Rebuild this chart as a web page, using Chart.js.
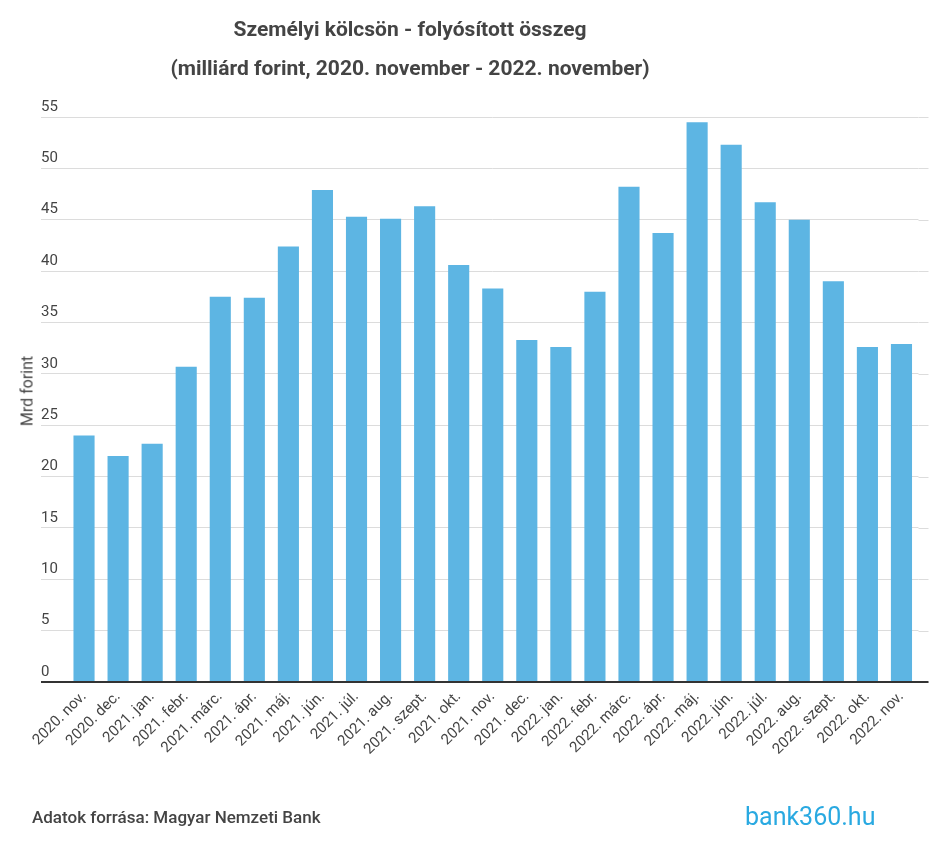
<!DOCTYPE html>
<html>
<head>
<meta charset="utf-8">
<script src="https://cdn.jsdelivr.net/npm/chart.js@4.4.1/dist/chart.umd.min.js"></script>
<style>
  body { margin: 0; background: #fff; }
  #wrap { position: relative; width: 940px; height: 851px; background: #fff; font-family: Roboto, "Noto Sans", sans-serif; color: #444; }
  #c { position: absolute; left: 0; top: 0; }
  .title { position: absolute; left: 0; top: 10px; width: 820px; text-align: center; font-weight: bold; font-size: 21px; line-height: 39px; color: #444; }
  .ylab { position: absolute; left: 27px; top: 391px; transform: translate(-50%, -50%) rotate(-90deg); font-size: 16px; color: #444; white-space: nowrap; }
  .src { position: absolute; left: 32px; top: 807px; font-size: 17px; font-weight: 500; color: #444; }
  .logo { position: absolute; left: 745px; top: 802px; font-size: 25px; font-weight: 400; color: #29a9e1; }
</style>
</head>
<body>
<div id="wrap">
  <canvas id="c" width="940" height="851"></canvas>
  <div class="title">Személyi kölcsön - folyósított összeg<br>(milliárd forint, 2020. november - 2022. november)</div>
  <div class="ylab">Mrd forint</div>
  <div class="src">Adatok forrása: Magyar Nemzeti Bank</div>
  <div class="logo">bank360.hu</div>
</div>
<script>
const months = ['2020. nov.', '2020. dec.', '2021. jan.', '2021. febr.', '2021. márc.', '2021. ápr.',
  '2021. máj.', '2021. jún.', '2021. júl.', '2021. aug.', '2021. szept.', '2021. okt.', '2021. nov.',
  '2021. dec.', '2022. jan.', '2022. febr.', '2022. márc.', '2022. ápr.', '2022. máj.', '2022. jún.',
  '2022. júl.', '2022. aug.', '2022. szept.', '2022. okt.', '2022. nov.'];
const amounts = [24.0, 22.0, 23.2, 30.7, 37.5, 37.4, 42.4, 47.9, 45.3, 45.1, 46.3, 40.6, 38.3,
  33.3, 32.6, 38.0, 48.2, 43.7, 54.5, 52.3, 46.7, 45.0, 39.0, 32.6, 32.9];
const yTicks = [0, 5, 10, 15, 20, 25, 30, 35, 40, 45, 50, 55];

const textColor = '#444';
const gridColor = '#dcdcdc';

// gridlines run a bit past the plot on the right, and the zero line is dark
const extraLines = {
    id: 'extraLines',
    beforeDatasetsDraw(chart) {
        const {ctx, chartArea, scales: {y}} = chart;
        ctx.save();
        ctx.strokeStyle = gridColor;
        ctx.lineWidth = 1;
        y.ticks.forEach(t => {
            const py = Math.round(y.getPixelForValue(t.value)) + 0.5;
            ctx.beginPath();
            ctx.moveTo(chartArea.right, py);
            ctx.lineTo(chartArea.right + 10, py);
            ctx.stroke();
        });
        ctx.restore();
    },
    afterDatasetsDraw(chart) {
        const {ctx, chartArea, scales: {y}} = chart;
        const py = y.getPixelForValue(0);
        ctx.save();
        ctx.strokeStyle = '#333';
        ctx.lineWidth = 2;
        ctx.beginPath();
        ctx.moveTo(chartArea.left - 26, py);
        ctx.lineTo(chartArea.right + 10, py);
        ctx.stroke();
        ctx.restore();
    }
};

new Chart(document.getElementById('c'), {
    type: 'bar',
    data: {
        labels: months,
        datasets: [{
            data: amounts,
            backgroundColor: '#5db5e3',
            borderWidth: 0,
            barPercentage: 0.62,
            categoryPercentage: 1
        }]
    },
    options: {
        responsive: false,
        animation: false,
        layout: { padding: { left: 41, right: 21.5, top: 117, bottom: 0 } },
        plugins: {
            legend: { display: false },
            tooltip: { enabled: false }
        },
        scales: {
            x: {
                grid: { display: false, drawTicks: false },
                border: { display: false },
                ticks: {
                    autoSkip: false,
                    minRotation: 45,
                    maxRotation: 45,
                    padding: 6,
                    color: textColor,
                    font: { family: 'Roboto', size: 15 }
                },
                afterFit(scale) { scale.height = 169; }
            },
            y: {
                min: 0,
                max: 55,
                afterBuildTicks(scale) { scale.ticks = yTicks.map(v => ({ value: v })); },
                grid: { color: gridColor, tickLength: 26, lineWidth: 1 },
                border: { display: false },
                ticks: {
                    crossAlign: 'far',
                    labelOffset: -10,
                    color: textColor,
                    font: { family: 'Roboto', size: 15 }
                },
                afterFit(scale) { scale.width = 26; }
            }
        }
    },
    plugins: [extraLines]
});
</script>
</body>
</html>
